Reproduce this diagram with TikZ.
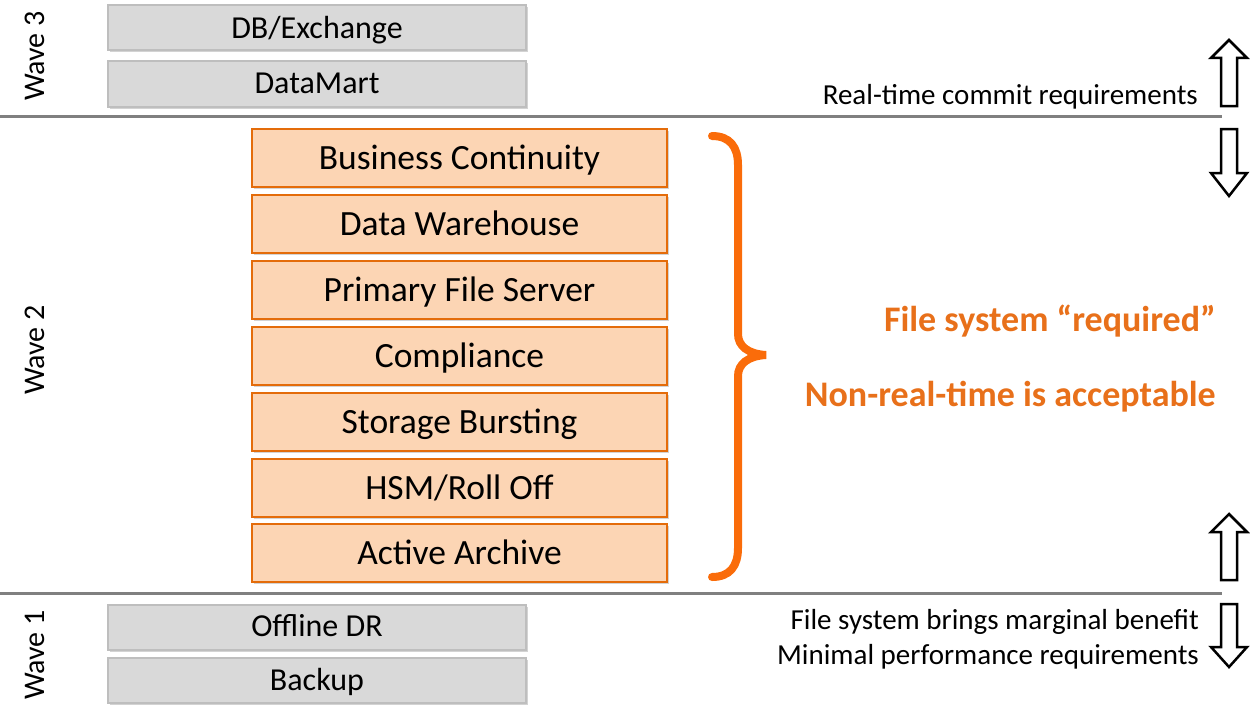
\documentclass[tikz,border=0pt]{standalone}
\usepackage{fontspec}
\setmainfont{Carlito}
\usetikzlibrary{shadows}

\definecolor{boxgray}{RGB}{217,217,217}
\definecolor{boxgrayline}{RGB}{190,190,190}
\definecolor{boxpeach}{RGB}{252,213,180}
\definecolor{boxorange}{RGB}{228,108,10}
\definecolor{braceorange}{RGB}{250,108,10}
\definecolor{textorange}{RGB}{232,112,26}
\definecolor{linegray}{RGB}{128,128,128}

\tikzset{
    wavebox/.style={draw=boxgrayline, fill=boxgray, line width=2pt, inner sep=0pt,
        minimum width=418pt, minimum height=45pt, text depth=0.22em,
        font=\fontsize{32}{38}\selectfont,
        drop shadow={shadow xshift=2pt, shadow yshift=-2pt, opacity=0.35}},
    usebox/.style={draw=boxorange, fill=boxpeach, line width=2.5pt, inner sep=0pt,
        minimum width=415pt, minimum height=58pt, text depth=0.22em,
        font=\fontsize{35.5}{42}\selectfont,
        drop shadow={shadow xshift=2pt, shadow yshift=-2pt, opacity=0.35}},
    wavelabel/.style={rotate=90, inner sep=0pt, font=\fontsize{30}{36}\selectfont},
    sideline/.style={anchor=east, inner sep=0pt, font=\fontsize{29}{34}\selectfont},
    claimline/.style={anchor=east, inner sep=0pt, text=textorange,
        font=\fontsize{36}{42}\selectfont\bfseries},
    sepline/.style={draw=linegray, line width=3pt},
    blockarrow/.style={draw=black, line width=2.5pt, line join=miter, fill=white},
}

\begin{document}
\begin{tikzpicture}[x=1pt, y=-1pt]%% start picture
            \useasboundingbox (0, 0) rectangle (1250, 709);


                %% wave 3
                \node[wavelabel] (wave3) at (35, 56){Wave 3};
                \node[wavebox] (dbx) at (317, 28){DB/Exchange};
                \node[wavebox] (dmart) at (317, 84){DataMart};
                \node[sideline] (realtime) at (1198, 97){Real-time commit requirements};


                \draw[sepline] (0, 116) to (1222, 116);


                %% wave 2
                \node[wavelabel] (wave2) at (35, 350){Wave 2};
                    \node[usebox] (bcont) at (459.5, 158){Business Continuity};
                    \node[usebox] (dwh) at (459.5, 224){Data Warehouse};
                    \node[usebox] (pfs) at (459.5, 290){Primary File Server};
                    \node[usebox] (compl) at (459.5, 356){Compliance};
                    \node[usebox] (burst) at (459.5, 422){Storage Bursting};
                    \node[usebox] (hsm) at (459.5, 488){HSM/Roll Off};
                    \node[usebox] (archive) at (459.5, 553){Active Archive};

                \draw[draw=braceorange, line width=8pt, line cap=round]
                    (712, 136) .. controls (730, 136) and (738, 147) .. (738, 165)
                    to (738, 334) .. controls (738, 346) and (748, 354) .. (766, 355)
                    .. controls (748, 356) and (738, 364) .. (738, 376)
                    to (738, 548) .. controls (738, 566) and (730, 577) .. (712, 577);

                \node[claimline] (fsreq) at (1216, 321){File system “required”};
                \node[claimline] (nonrt) at (1216, 397){Non-real-time is acceptable};


                \draw[sepline] (0, 593) to (1222, 593);


                %% wave 1
                \node[wavelabel] (wave1) at (35, 655){Wave 1};
                \node[wavebox] (offdr) at (317, 627){Offline DR};
                \node[wavebox] (backup) at (317, 680){Backup};
                \node[sideline] (marginal) at (1199, 622){File system brings marginal benefit};
                \node[sideline] (minperf) at (1199, 657){Minimal performance requirements};


                %% arrows
                \draw[blockarrow] (1229, 40) to (1247, 58) to (1237, 58) to (1237, 106)
                    to (1221, 106) to (1221, 58) to (1211, 58) to cycle;
                \draw[blockarrow] (1229, 196) to (1247, 173) to (1237, 173) to (1237, 129)
                    to (1221, 129) to (1221, 173) to (1211, 173) to cycle;
                \draw[blockarrow] (1229, 514) to (1247, 532) to (1237, 532) to (1237, 580)
                    to (1221, 580) to (1221, 532) to (1211, 532) to cycle;
                \draw[blockarrow] (1229, 667) to (1247, 647) to (1237, 647) to (1237, 604)
                    to (1221, 604) to (1221, 647) to (1211, 647) to cycle;

            \end{tikzpicture}
\end{document}
